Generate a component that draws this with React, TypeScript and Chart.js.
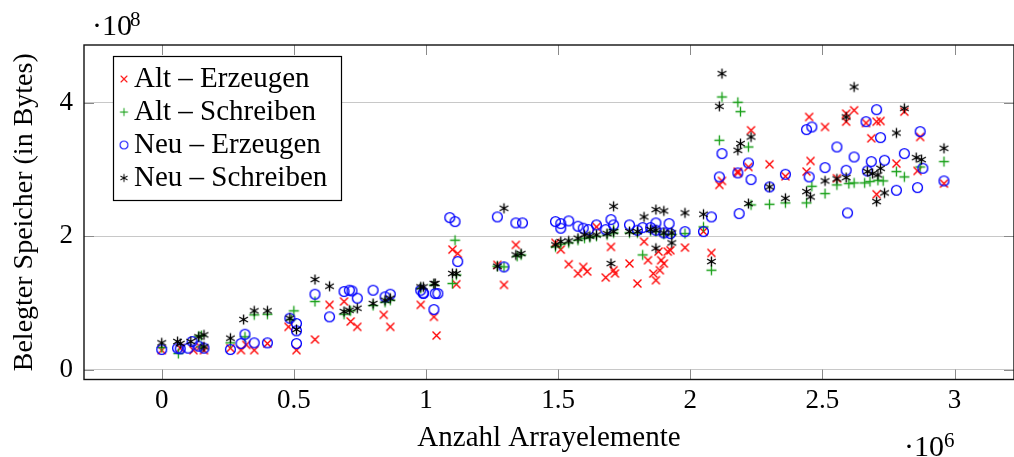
import React, { useEffect, useRef } from 'react';
import { Chart, registerables } from 'chart.js';

Chart.register(...registerables);

const FONT = '"Liberation Serif", "Times New Roman", serif';

const seriesNames = ['Alt – Erzeugen', 'Alt – Schreiben', 'Neu – Erzeugen', 'Neu – Schreiben'];
const xTicks = [0, 0.5, 1, 1.5, 2, 2.5, 3];
const xTickLabels = ['0', '0.5', '1', '1.5', '2', '2.5', '3'];
const yTicks = [0, 2, 4];
const yTickLabels = ['0', '2', '4'];
const xTitle = 'Anzahl Arrayelemente';
const yTitle = 'Belegter Speicher (in Bytes)';
const xExponent = '6';
const yExponent = '8';

// x in units of 10^6 elements, y in units of 10^8 bytes
const altErzeugen: [number, number][] = [
  [0.00, 0.29], [0.07, 0.32], [0.12, 0.29], [0.145, 0.34], [0.16, 0.29], [0.26, 0.32], [0.30, 0.29],
  [0.32, 0.37], [0.35, 0.29], [0.40, 0.39], [0.48, 0.64], [0.51, 0.29], [0.58, 0.45], [0.635, 0.97],
  [0.69, 1.02], [0.715, 0.72], [0.74, 0.64], [0.84, 0.82], [0.865, 0.64], [0.98, 0.97], [1.03, 0.79],
  [1.04, 0.51], [1.10, 1.80], [1.12, 1.74], [1.115, 1.28], [1.27, 1.57], [1.295, 1.27], [1.34, 1.87],
  [1.49, 1.90], [1.51, 1.80], [1.54, 1.58], [1.575, 1.44], [1.595, 1.54], [1.61, 1.47], [1.645, 2.14],
  [1.70, 1.84], [1.68, 1.38], [1.71, 1.49], [1.715, 1.44], [1.77, 1.59], [1.80, 1.29], [1.825, 1.92],
  [1.84, 1.64], [1.86, 1.44], [1.87, 1.34], [1.88, 1.77], [1.89, 1.64], [1.90, 1.59], [1.915, 1.77],
  [1.925, 1.79], [1.885, 1.49], [1.98, 1.83], [2.05, 2.07], [2.08, 1.75], [2.11, 2.77], [2.12, 2.83],
  [2.18, 2.97], [2.23, 3.59], [2.18, 2.95], [2.22, 3.04], [2.30, 3.08], [2.36, 2.90], [2.45, 3.79],
  [2.51, 3.64], [2.455, 3.13], [2.44, 2.97], [2.555, 2.87], [2.59, 3.84], [2.62, 3.89], [2.59, 3.72],
  [2.665, 3.70], [2.705, 3.72], [2.72, 3.73], [2.685, 3.47], [2.705, 2.63], [2.78, 3.09], [2.81, 3.87],
  [2.87, 3.49], [2.86, 2.98], [2.96, 2.79],
];

const altSchreiben: [number, number][] = [
  [0.00, 0.33], [0.063, 0.24], [0.14, 0.50], [0.15, 0.51], [0.15, 0.34], [0.26, 0.40], [0.315, 0.49],
  [0.35, 0.82], [0.40, 0.83], [0.49, 0.75], [0.50, 0.88], [0.58, 1.02], [0.69, 0.83], [0.715, 0.88],
  [0.80, 0.96], [0.845, 1.01], [0.865, 1.04], [0.98, 1.22], [1.03, 1.27], [1.11, 1.94], [1.10, 1.29],
  [1.115, 1.42], [1.27, 1.55], [1.295, 1.54], [1.345, 1.70], [1.36, 1.72], [1.49, 1.84], [1.51, 1.88],
  [1.54, 1.90], [1.575, 1.94], [1.60, 1.97], [1.62, 1.98], [1.645, 2.00], [1.685, 2.02], [1.71, 2.10],
  [1.71, 2.05], [1.77, 2.05], [1.80, 2.05], [1.82, 1.72], [1.85, 2.08], [1.87, 2.07], [1.90, 2.03],
  [1.93, 2.03], [1.98, 2.04], [2.05, 2.14], [2.08, 1.49], [2.11, 3.44], [2.12, 4.09], [2.18, 4.01],
  [2.19, 3.87], [2.22, 3.34], [2.23, 2.47], [2.30, 2.48], [2.36, 2.50], [2.44, 2.50], [2.46, 2.75],
  [2.51, 2.64], [2.555, 2.77], [2.60, 2.79], [2.62, 2.80], [2.66, 2.80], [2.68, 2.82], [2.71, 2.84],
  [2.73, 2.83], [2.78, 2.97], [2.81, 2.89], [2.87, 3.04], [2.96, 3.12],
];

const neuErzeugen: [number, number][] = [
  [0.00, 0.30], [0.06, 0.32], [0.07, 0.31], [0.10, 0.32], [0.115, 0.42], [0.14, 0.35], [0.16, 0.32],
  [0.26, 0.30], [0.30, 0.39], [0.315, 0.53], [0.35, 0.40], [0.40, 0.40], [0.485, 0.77], [0.51, 0.69],
  [0.51, 0.58], [0.51, 0.39], [0.58, 1.13], [0.635, 0.79], [0.69, 1.17], [0.71, 1.19], [0.72, 1.18],
  [0.74, 1.07], [0.80, 1.19], [0.845, 1.09], [0.865, 1.13], [0.98, 1.19], [0.99, 1.15], [0.99, 1.14],
  [1.03, 0.90], [1.035, 1.14], [1.045, 1.14], [1.09, 2.28], [1.11, 2.22], [1.12, 1.62], [1.27, 2.29],
  [1.295, 1.54], [1.34, 2.20], [1.365, 2.20], [1.49, 2.22], [1.51, 2.19], [1.54, 2.23], [1.51, 2.12],
  [1.575, 2.15], [1.595, 2.12], [1.615, 2.10], [1.645, 2.17], [1.68, 2.10], [1.70, 2.25], [1.71, 2.17],
  [1.77, 2.17], [1.80, 2.09], [1.82, 2.13], [1.85, 2.13], [1.87, 2.20], [1.87, 2.09], [1.90, 2.05],
  [1.92, 2.19], [1.925, 2.04], [1.98, 2.07], [2.05, 2.07], [2.08, 2.29], [2.11, 2.89], [2.12, 3.24],
  [2.185, 2.34], [2.18, 2.95], [2.22, 3.10], [2.23, 2.85], [2.30, 2.74], [2.36, 2.93], [2.44, 3.60],
  [2.46, 3.64], [2.51, 3.03], [2.45, 2.89], [2.555, 3.34], [2.62, 3.19], [2.59, 2.99], [2.595, 2.35],
  [2.705, 3.90], [2.665, 3.72], [2.72, 3.48], [2.685, 3.12], [2.735, 3.14], [2.67, 2.98], [2.78, 2.69],
  [2.81, 3.24], [2.87, 3.57], [2.88, 3.02], [2.86, 2.73], [2.96, 2.83],
];

const neuSchreiben: [number, number][] = [
  [0.00, 0.40], [0.06, 0.42], [0.07, 0.39], [0.11, 0.42], [0.14, 0.49], [0.16, 0.52], [0.16, 0.34],
  [0.26, 0.47], [0.31, 0.75], [0.35, 0.88], [0.40, 0.88], [0.485, 0.77], [0.51, 0.60], [0.58, 1.35],
  [0.635, 1.25], [0.69, 0.87], [0.71, 0.89], [0.74, 0.92], [0.80, 0.99], [0.845, 1.04], [0.865, 1.07],
  [0.98, 1.24], [0.99, 1.24], [1.03, 1.29], [1.035, 1.29], [1.10, 1.44], [1.115, 1.44], [1.27, 1.55],
  [1.295, 2.42], [1.34, 1.72], [1.36, 1.74], [1.49, 1.87], [1.51, 1.92], [1.54, 1.93], [1.575, 1.97],
  [1.60, 2.02], [1.62, 2.00], [1.645, 2.02], [1.685, 2.04], [1.71, 2.07], [1.71, 2.45], [1.70, 1.59],
  [1.77, 2.07], [1.80, 2.07], [1.825, 2.29], [1.85, 2.10], [1.87, 2.40], [1.87, 2.09], [1.90, 2.38],
  [1.90, 2.05], [1.93, 2.05], [1.93, 1.90], [1.87, 1.82], [1.98, 2.35], [2.05, 2.33], [2.08, 1.62],
  [2.12, 4.44], [2.11, 3.95], [2.19, 3.39], [2.18, 3.29], [2.23, 3.49], [2.22, 2.49], [2.30, 2.74],
  [2.36, 2.57], [2.51, 2.83], [2.44, 2.67], [2.455, 2.59], [2.555, 2.86], [2.62, 4.24], [2.59, 3.79],
  [2.59, 2.88], [2.67, 2.97], [2.69, 2.94], [2.71, 2.92], [2.72, 3.02], [2.705, 2.52], [2.735, 2.65],
  [2.78, 3.55], [2.81, 3.92], [2.855, 3.18], [2.875, 3.15], [2.96, 3.32],
];

const seriesData = [altErzeugen, altSchreiben, neuErzeugen, neuSchreiben];
const seriesColors = ['#ff0000', '#18a018', '#0000ff', '#000000'];
const seriesMarks = ['x', '+', 'o', '*'];

const X_MIN = -0.294;
const X_MAX = 3.225;
const Y_MIN = -0.15;
const Y_MAX = 4.87;

function makeMarker(kind: string, color: string): HTMLCanvasElement {
  const size = 13;
  const c = document.createElement('canvas');
  c.width = size;
  c.height = size;
  const ctx = c.getContext('2d')!;
  const m = size / 2;
  ctx.strokeStyle = color;
  ctx.lineWidth = 1.35;
  ctx.beginPath();
  if (kind === 'x') {
    const h = 4;
    ctx.moveTo(m - h, m - h); ctx.lineTo(m + h, m + h);
    ctx.moveTo(m - h, m + h); ctx.lineTo(m + h, m - h);
  } else if (kind === '+') {
    const h = 5;
    ctx.moveTo(m - h, m); ctx.lineTo(m + h, m);
    ctx.moveTo(m, m - h); ctx.lineTo(m, m + h);
  } else if (kind === 'o') {
    ctx.arc(m, m, 4.9, 0, Math.PI * 2);
  } else {
    const r = 5;
    for (const a of [90, 30, 150]) {
      const rad = (a * Math.PI) / 180;
      ctx.moveTo(m + r * Math.cos(rad), m - r * Math.sin(rad));
      ctx.lineTo(m - r * Math.cos(rad), m + r * Math.sin(rad));
    }
  }
  ctx.stroke();
  return c;
}

export default function App() {
  const ref = useRef<HTMLCanvasElement | null>(null);

  useEffect(() => {
    document.body.style.margin = '0';
    const canvas = ref.current!;
    const markers = seriesMarks.map((k, i) => makeMarker(k, seriesColors[i]));

    const framePlugin = {
      id: 'frame',
      beforeDatasetsDraw(chart: any) {
        const { ctx, chartArea: a, scales } = chart;
        ctx.save();
        ctx.strokeStyle = '#8a8a8a';
        ctx.lineWidth = 1;
        const tl = 10;
        ctx.beginPath();
        for (const v of xTicks) {
          const x = Math.round(scales.x.getPixelForValue(v)) + 0.5;
          ctx.moveTo(x, a.bottom); ctx.lineTo(x, a.bottom - tl);
          ctx.moveTo(x, a.top); ctx.lineTo(x, a.top + tl);
        }
        for (const v of yTicks) {
          const y = Math.round(scales.y.getPixelForValue(v)) + 0.5;
          ctx.moveTo(a.left, y); ctx.lineTo(a.left + tl, y);
          ctx.moveTo(a.right, y); ctx.lineTo(a.right - tl, y);
        }
        ctx.stroke();
        ctx.strokeStyle = '#111';
        ctx.lineWidth = 1.4;
        ctx.strokeRect(a.left, a.top, a.right - a.left, a.bottom - a.top);
        ctx.restore();
      },
      afterDraw(chart: any) {
        const { ctx } = chart;
        ctx.save();
        // legend
        const bx = 113.5, by = 56.5, bw = 228, bh = 144;
        ctx.fillStyle = '#ffffff';
        ctx.fillRect(bx, by, bw, bh);
        ctx.strokeStyle = '#000';
        ctx.lineWidth = 1.2;
        ctx.strokeRect(bx, by, bw, bh);
        ctx.font = `29px ${FONT}`;
        ctx.fillStyle = '#000';
        ctx.textBaseline = 'alphabetic';
        ctx.textAlign = 'left';
        seriesNames.forEach((name, i) => {
          const cy = 79 + i * 33;
          const mk = markers[i];
          const s = 0.8;
          ctx.drawImage(mk, 124 - (mk.width * s) / 2, cy - (mk.height * s) / 2, mk.width * s, mk.height * s);
          ctx.fillText(name, 134, cy + 8);
        });
        // exponents
        ctx.font = `30px ${FONT}`;
        ctx.fillText('·10', 92, 35);
        ctx.font = `21px ${FONT}`;
        ctx.fillText(yExponent, 130, 26);
        ctx.font = `30px ${FONT}`;
        ctx.fillText('·10', 904, 456);
        ctx.font = `21px ${FONT}`;
        ctx.fillText(xExponent, 944, 447);
        ctx.restore();
      },
    };

    const chart = new Chart(canvas, {
      type: 'scatter',
      data: {
        datasets: seriesData.map((d, i) => ({
          label: seriesNames[i],
          data: d.map(([x, y]) => ({ x, y })),
          pointStyle: markers[i] as any,
          pointRadius: 5,
          pointHoverRadius: 5,
          showLine: false,
          order: 4 - i,
        })),
      },
      options: {
        responsive: false,
        animation: false,
        events: [],
        layout: { autoPadding: false, padding: { top: 45, right: 0, left: 0, bottom: 0 } },
        plugins: { legend: { display: false }, tooltip: { enabled: false } },
        scales: {
          x: {
            type: 'linear',
            min: X_MIN,
            max: X_MAX,
            grid: { display: false, drawTicks: false },
            border: { display: false },
            afterBuildTicks: (s: any) => { s.ticks = xTicks.map((v) => ({ value: v })); },
            afterFit: (s: any) => { s.height = 77.5; },
            ticks: {
              autoSkip: false,
              maxRotation: 0,
              padding: 5,
              color: '#000',
              font: { family: FONT, size: 27 },
              callback: (v: any) => { const i = xTicks.indexOf(Number(v)); return i >= 0 ? xTickLabels[i] : ''; },
            },
            title: { display: true, text: xTitle, color: '#000', font: { family: FONT, size: 29 }, padding: { top: 0, bottom: 1 } },
          },
          y: {
            type: 'linear',
            min: Y_MIN,
            max: Y_MAX,
            grid: { display: true, drawTicks: false, color: '#c8c8c8', lineWidth: 1 },
            border: { display: false },
            afterBuildTicks: (s: any) => { s.ticks = yTicks.map((v) => ({ value: v })); },
            afterFit: (s: any) => { s.width = 84; },
            ticks: {
              autoSkip: false,
              padding: 11,
              color: '#000',
              font: { family: FONT, size: 27 },
              callback: (v: any) => { const i = yTicks.indexOf(Number(v)); return i >= 0 ? yTickLabels[i] : ''; },
            },
            title: { display: true, text: yTitle, color: '#000', font: { family: FONT, size: 28 }, padding: { top: 8, bottom: 0 } },
          },
        },
      },
      plugins: [framePlugin],
    });

    return () => chart.destroy();
  }, []);

  return (
    <div style={{ position: 'absolute', left: 0, top: 0, width: 1014, height: 457, background: '#fff' }}>
      <canvas ref={ref} width={1014} height={457} style={{ display: 'block', width: 1014, height: 457 }} />
    </div>
  );
}
